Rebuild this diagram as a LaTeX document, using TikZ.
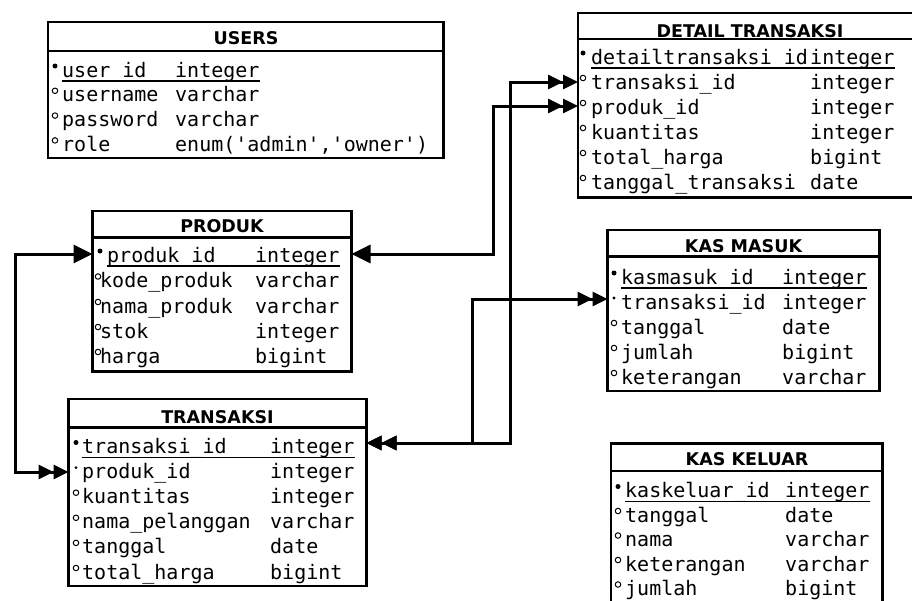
\documentclass[tikz,border=0pt]{standalone}
\usepackage{fontspec}
\setmonofont{DejaVu Sans Mono}
\newfontfamily\headfont{DejaVu Sans}
\usetikzlibrary{arrows.meta}
\tikzset{
  rowtext/.style={inner sep=0pt, anchor=base west, text=black,
    font=\ttfamily\fontsize{20}{24}\selectfont},
  titletext/.style={inner sep=0pt, anchor=base, text=black,
    font=\headfont\bfseries\fontsize{17.5}{20}\selectfont},
  tbox/.style={draw=black, line width=2.9pt, fill=white},
  sepline/.style={draw=black, line width=2.9pt},
  pkdot/.style={circle, fill=black, inner sep=0pt, minimum size=5pt},
  fkdot/.style={circle, fill=black, inner sep=0pt, minimum size=3.2pt},
  atdot/.style={circle, draw=black, line width=1pt, inner sep=0pt, minimum size=5.5pt},
  uline/.style={draw=black, line width=1.5pt},
  conn/.style={draw=black, line width=3pt},
  onetip/.tip={Triangle[length=19pt,width=18pt]},
  manytip/.tip={Triangle[length=15pt,width=14pt] Triangle[length=15pt,width=14pt]},
}
% #1 id, #2 dot style, #3 dot x, #4 name x, #5 type x, #6 baseline, #7 name, #8 type
\newcommand\erow[8]{%
  \node[rowtext] (#1n) at (#4,#6) {#7};
  \node[rowtext] (#1t) at (#5,#6) {#8};
  \node[#2] (#1d) at (#3,#6-11) {};
}
\newcommand\pkline[1]{%
  \draw[uline] ([yshift=-4pt]#1n.base west) -- ([yshift=-4pt]#1t.base east);
}
\begin{document}
\begin{tikzpicture}[x=1pt,y=-1pt]
\useasboundingbox (0,0) rectangle (912,600);
\fill[white] (0,0) rectangle (912,600);
\clip (0,0) rectangle (912,600);

% ---------- USERS ----------
\draw[tbox] (48,22) rectangle (443.5,158);
\draw[sepline] (48,51) -- (443.5,51);
\node[titletext] (usersT) at (246,44) {USERS};
\erow{u1}{pkdot}{55}{62}{175}{77}{user\_id}{integer}
\erow{u2}{atdot}{55}{62}{175}{101.8}{username}{varchar}
\erow{u3}{atdot}{55}{62}{175}{126.6}{password}{varchar}
\erow{u4}{atdot}{55}{62}{175}{151.4}{role}{enum('admin','owner')}
\pkline{u1}

% ---------- DETAIL TRANSAKSI ----------
\draw[tbox] (578,13) rectangle (925,197.5);
\draw[sepline] (578,39) -- (925,39);
\node[titletext] (detT) at (750,37) {DETAIL TRANSAKSI};
\erow{d1}{pkdot}{583}{591}{810}{64}{detailtransaksi\_id}{integer}
\erow{d2}{atdot}{583}{591}{810}{89}{transaksi\_id}{integer}
\erow{d3}{atdot}{583}{591}{810}{114}{produk\_id}{integer}
\erow{d4}{atdot}{583}{591}{810}{139}{kuantitas}{integer}
\erow{d5}{atdot}{583}{591}{810}{164}{total\_harga}{bigint}
\erow{d6}{atdot}{583}{591}{810}{189}{tanggal\_transaksi}{date}
\pkline{d1}

% ---------- PRODUK ----------
\draw[tbox] (92.5,211) rectangle (351.5,371.5);
\draw[sepline] (92.5,237.5) -- (351.5,237.5);
\node[titletext] (prodT) at (222,232) {PRODUK};
\erow{p1}{pkdot}{100}{107}{255}{262}{produk\_id}{integer}
\erow{p2}{atdot}{98}{100}{255}{287.5}{kode\_produk}{varchar}
\erow{p3}{atdot}{98}{100}{255}{313}{nama\_produk}{varchar}
\erow{p4}{atdot}{98}{100}{255}{338}{stok}{integer}
\erow{p5}{atdot}{98}{100}{255}{363}{harga}{bigint}
\pkline{p1}

% ---------- TRANSAKSI ----------
\draw[tbox] (68.5,399) rectangle (366.5,586);
\draw[sepline] (68.5,427.5) -- (366.5,427.5);
\node[titletext] (trxT) at (217.5,423) {TRANSAKSI};
\erow{t1}{pkdot}{76}{82}{270}{453.5}{transaksi\_id}{integer}
\erow{t2}{fkdot}{76}{82}{270}{478.6}{produk\_id}{integer}
\erow{t3}{atdot}{76}{82}{270}{503.7}{kuantitas}{integer}
\erow{t4}{atdot}{76}{82}{270}{528.8}{nama\_pelanggan}{varchar}
\erow{t5}{atdot}{76}{82}{270}{553.9}{tanggal}{date}
\erow{t6}{atdot}{76}{82}{270}{579}{total\_harga}{bigint}
\pkline{t1}

% ---------- KAS MASUK ----------
\draw[tbox] (607.5,230) rectangle (879.5,391);
\draw[sepline] (607.5,256.5) -- (879.5,256.5);
\node[titletext] (kmT) at (743.5,252) {KAS MASUK};
\erow{k1}{pkdot}{614}{621}{782}{284}{kasmasuk\_id}{integer}
\erow{k2}{fkdot}{614}{621}{782}{309}{transaksi\_id}{integer}
\erow{k3}{atdot}{614}{621}{782}{334}{tanggal}{date}
\erow{k4}{atdot}{614}{621}{782}{359}{jumlah}{bigint}
\erow{k5}{atdot}{614}{621}{782}{384}{keterangan}{varchar}
\pkline{k1}

% ---------- KAS KELUAR ----------
\draw[tbox] (611,443.5) rectangle (882.5,630);
\draw[sepline] (611,471) -- (882.5,471);
\node[titletext] (kkT) at (747,465) {KAS KELUAR};
\erow{c1}{pkdot}{618}{625}{785}{497.5}{kaskeluar\_id}{integer}
\erow{c2}{atdot}{618}{625}{785}{522}{tanggal}{date}
\erow{c3}{atdot}{618}{625}{785}{546.5}{nama}{varchar}
\erow{c4}{atdot}{618}{625}{785}{571}{keterangan}{varchar}
\erow{c5}{atdot}{618}{625}{785}{595.5}{jumlah}{bigint}
\pkline{c1}

% ---------- connectors ----------
\coordinate (busL) at (15,0);
\coordinate (busP) at (493,0);
\coordinate (busK) at (472,0);
\coordinate (busD) at (510,0);
\coordinate (prodPkW) at (92.5,254);
\coordinate (prodPkE) at (351.5,254);
\coordinate (trxFkW) at (68.5,472);
\coordinate (trxPkE) at (366.5,443);
\coordinate (detTrxW) at (578,82);
\coordinate (detProdW) at (578,106);
\coordinate (kmTrxW) at (607.5,299);

\draw[conn, {manytip}-{onetip}] (trxFkW) -- (trxFkW -| busL) -- (prodPkW -| busL) -- (prodPkW);
\draw[conn, {onetip}-{manytip}] (prodPkE) -- (prodPkE -| busP) -- (detProdW -| busP) -- (detProdW);
\draw[conn, {manytip}-{manytip}] (trxPkE) -- (trxPkE -| busD) -- (detTrxW -| busD) -- (detTrxW);
\draw[conn, {manytip}-{manytip}] (trxPkE) -- (trxPkE -| busK) -- (kmTrxW -| busK) -- (kmTrxW);
\end{tikzpicture}
\end{document}
